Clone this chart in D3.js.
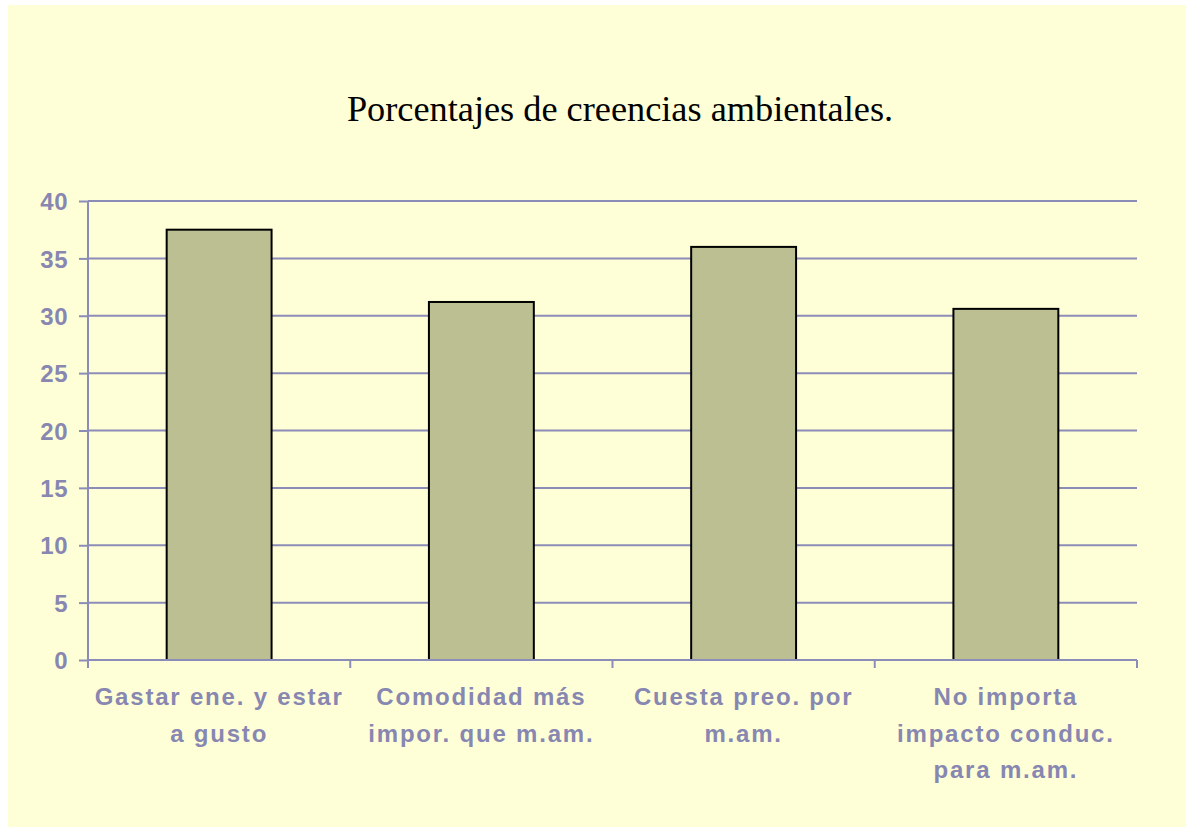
<!DOCTYPE html>
<html>
<head>
<meta charset="utf-8">
<script src="https://cdn.jsdelivr.net/npm/d3@7"></script>
<style>
  body { margin: 0; background: #ffffff; }
  svg { display: block; }
</style>
</head>
<body>
<div id="chart_container"></div>
<script>
// data
var categories = [
    ["Gastar ene. y estar", "a gusto"],
    ["Comodidad más", "impor. que m.am."],
    ["Cuesta preo. por", "m.am."],
    ["No importa", "impacto conduc.", "para m.am."]
];
var values = [37.5, 31.2, 36.0, 30.6];
var yTicks = [0, 5, 10, 15, 20, 25, 30, 35, 40];
var title = "Porcentajes de creencias ambientales.";

// dimensions
var W = 1186, H = 827;
var margin = { top: 201, left: 88, right: 49, bottom: 167 };
var width = W - margin.left - margin.right,
    height = H - margin.top - margin.bottom;

var lineColor = "#8c8cb8",
    textColor = "#8787b1";

var svg = d3.select("#chart_container").append("svg")
    .attr("width", W)
    .attr("height", H);

// yellow panel
svg.append("rect")
    .attr("x", 8).attr("y", 5)
    .attr("width", W - 8).attr("height", H - 5)
    .attr("fill", "#ffffd7");

svg.append("text")
    .attr("x", 620)
    .attr("y", 121)
    .attr("text-anchor", "middle")
    .attr("font-family", "'Liberation Serif', 'Times New Roman', serif")
    .attr("font-size", 36.3)
    .attr("fill", "#000")
    .text(title);

var g = svg.append("g")
    .attr("transform", "translate(" + margin.left + "," + margin.top + ")");

var x = d3.scaleBand()
    .domain(d3.range(categories.length))
    .range([0, width])
    .paddingInner(0.6)
    .paddingOuter(0.3);
var xb = d3.scaleBand()
    .domain(d3.range(categories.length))
    .range([0, width]);
var y = d3.scaleLinear().domain([0, 40]).range([height, 0]);

// gridlines
g.append("g")
    .selectAll("line")
    .data(yTicks.filter(function(d) { return d > 0; }))
    .enter().append("line")
    .attr("x1", 0).attr("x2", width)
    .attr("y1", function(d) { return y(d); })
    .attr("y2", function(d) { return y(d); })
    .attr("stroke", lineColor)
    .attr("stroke-width", 2);

// y axis
var yAxis = g.append("g")
    .call(d3.axisLeft(y).tickValues(yTicks).tickSize(9).tickPadding(11));
yAxis.select(".domain").attr("stroke", lineColor).attr("stroke-width", 2)
    .attr("d", "M0," + height + "V0");
yAxis.selectAll(".tick line").attr("stroke", lineColor).attr("stroke-width", 2);
yAxis.selectAll(".tick text")
    .attr("fill", textColor)
    .attr("font-family", "Arial, 'Liberation Sans', sans-serif")
    .attr("font-weight", "bold")
    .attr("font-size", 24)
    .attr("letter-spacing", 0.5)
    .attr("dy", "0.36em");

// bars
g.selectAll(".bar")
    .data(values)
    .enter().append("rect")
    .attr("class", "bar")
    .attr("x", function(d, i) { return x(i); })
    .attr("width", x.bandwidth())
    .attr("y", function(d) { return y(d); })
    .attr("height", function(d) { return height - y(d); })
    .attr("fill", "#bcbf91")
    .attr("stroke", "#000")
    .attr("stroke-width", 2);

// x axis
g.append("line")
    .attr("x1", 0).attr("x2", width)
    .attr("y1", height).attr("y2", height)
    .attr("stroke", lineColor).attr("stroke-width", 2);
g.append("g")
    .selectAll("line")
    .data(d3.range(categories.length + 1))
    .enter().append("line")
    .attr("x1", function(d) { return d * xb.bandwidth(); })
    .attr("x2", function(d) { return d * xb.bandwidth(); })
    .attr("y1", height).attr("y2", height + 8)
    .attr("stroke", lineColor).attr("stroke-width", 2);

// category labels
var labels = g.append("g").selectAll("text")
    .data(categories)
    .enter().append("text")
    .attr("text-anchor", "middle")
    .attr("fill", textColor)
    .attr("font-family", "Arial, 'Liberation Sans', sans-serif")
    .attr("font-weight", "bold")
    .attr("font-size", 24)
    .attr("letter-spacing", 1.8)
    .attr("transform", function(d, i) {
        return "translate(" + (xb(i) + xb.bandwidth() / 2) + "," + (height + 45) + ")";
    });
labels.selectAll("tspan")
    .data(function(d) { return d; })
    .enter().append("tspan")
    .attr("x", 0)
    .attr("y", function(d, i) { return i * 36.5; })
    .text(function(d) { return d; });
</script>
</body>
</html>
